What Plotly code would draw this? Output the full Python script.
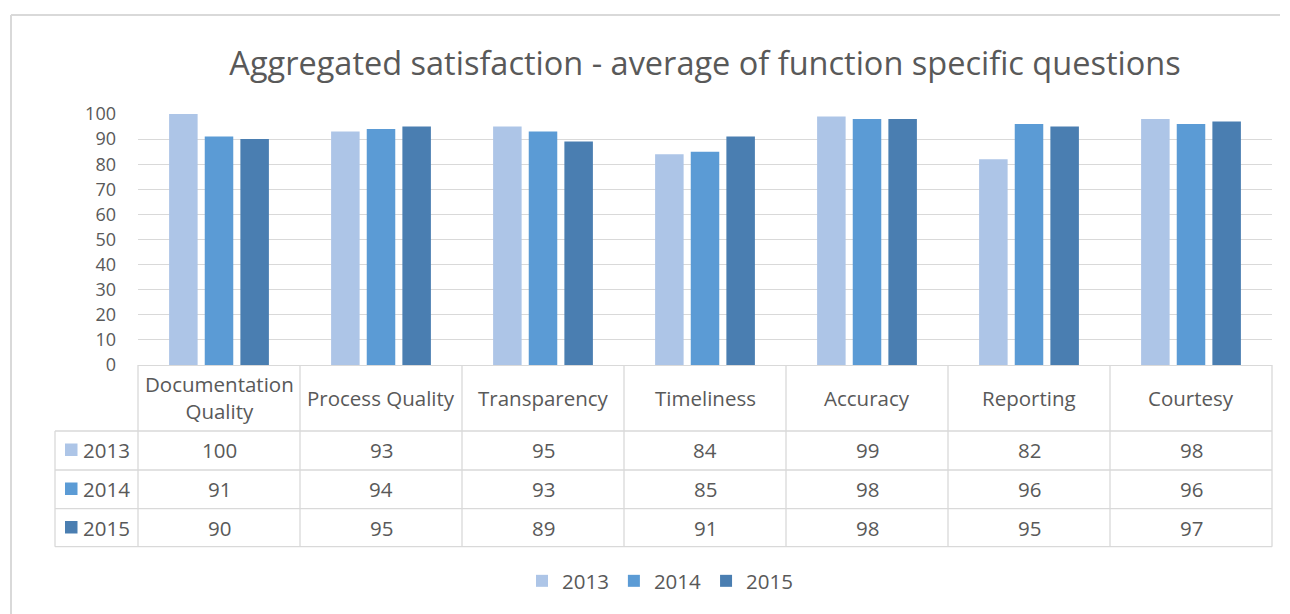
import plotly.graph_objects as go

categories = ["Documentation Quality", "Process Quality", "Transparency", "Timeliness",
              "Accuracy", "Reporting", "Courtesy"]
header_labels = ["Documentation<br>Quality", "Process Quality", "Transparency", "Timeliness",
                 "Accuracy", "Reporting", "Courtesy"]
years = ["2013", "2014", "2015"]
values_2013 = [100, 93, 95, 84, 99, 82, 98]
values_2014 = [91, 94, 93, 85, 98, 96, 96]
values_2015 = [90, 95, 89, 91, 98, 95, 97]
series = [values_2013, values_2014, values_2015]
colors = ["#ADC5E7", "#5B9BD5", "#4A7EB1"]
y_ticks = [0, 10, 20, 30, 40, 50, 60, 70, 80, 90, 100]

OFF = 8  # page body margin
W, H = 1290 - OFF, 614 - OFF
PL, PR, PT, PB = 138, 1272, 114, 365  # plot area in screen pixels
TXT = "#595959"
GRID = "#D9D9D9"
FONT = "Open Sans"
FS = 20.5


def px_x(p):
    return (p - PL) / (PR - PL)


def px_y(p):
    return (PB - p) / (PB - PT)


fig = go.Figure()
for name, vals, col in zip(years, series, colors):
    fig.add_trace(go.Bar(x=categories, y=vals, name=name,
                         marker=dict(color=col, line=dict(width=0))))

shapes = []
annotations = []

# table grid
row_lines = [431, 470, 508.7, 546.7]
for yl in row_lines:
    shapes.append(dict(type="line", xref="paper", yref="paper",
                       x0=px_x(55), x1=px_x(PR), y0=px_y(yl), y1=px_y(yl),
                       line=dict(color=GRID, width=1.3)))
shapes.append(dict(type="line", xref="paper", yref="paper",
                   x0=px_x(55), x1=px_x(55), y0=px_y(431), y1=px_y(546.7),
                   line=dict(color=GRID, width=1.3)))
ncat = len(categories)
for k in range(ncat + 1):
    xp = PL + (PR - PL) * k / ncat
    shapes.append(dict(type="line", xref="paper", yref="paper",
                       x0=px_x(xp), x1=px_x(xp), y0=px_y(PB), y1=px_y(546.7),
                       line=dict(color=GRID, width=1.3)))

# chart frame (top and left)
shapes.append(dict(type="line", xref="paper", yref="paper",
                   x0=px_x(11), x1=px_x(1280), y0=px_y(15), y1=px_y(15),
                   line=dict(color=GRID, width=2)))
shapes.append(dict(type="line", xref="paper", yref="paper",
                   x0=px_x(11), x1=px_x(11), y0=px_y(15), y1=px_y(614),
                   line=dict(color=GRID, width=2)))

# header labels
for cat, lab in zip(categories, header_labels):
    annotations.append(dict(x=cat, xref="x", y=px_y(398), yref="paper",
                            text=lab, showarrow=False, xanchor="center", yanchor="middle",
                            font=dict(family=FONT, size=FS, color=TXT)))

# values and row labels
row_centers = [450, 489, 527.5]
for yr, vals, col, rc in zip(years, series, colors, row_centers):
    for cat, v in zip(categories, vals):
        annotations.append(dict(x=cat, xref="x", y=px_y(rc), yref="paper",
                                text=f"{v:.0f}", showarrow=False,
                                xanchor="center", yanchor="middle",
                                font=dict(family=FONT, size=FS, color=TXT)))
    shapes.append(dict(type="rect", xref="paper", yref="paper",
                       x0=px_x(65), x1=px_x(77.5), y0=px_y(rc - 6.5), y1=px_y(rc + 6),
                       fillcolor=col, line=dict(width=0)))
    annotations.append(dict(x=px_x(81), xref="paper", y=px_y(rc), yref="paper",
                            text=yr, showarrow=False, xanchor="left", yanchor="middle",
                            font=dict(family=FONT, size=FS, color=TXT)))

fig.update_layout(
    width=W, height=H,
    margin=dict(l=PL - OFF, r=1290 - PR, t=PT - OFF, b=614 - PB, pad=0),
    paper_bgcolor="white", plot_bgcolor="white",
    barmode="group", bargap=0.34, bargroupgap=0.2,
    title=dict(text="Aggregated satisfaction - average of function specific questions",
               x=0.5, xref="paper", xanchor="center",
               y=1 - (64 - OFF) / H, yref="container", yanchor="middle",
               font=dict(family=FONT, size=32.5, color=TXT)),
    xaxis=dict(showticklabels=False, showgrid=False, showline=True,
               linecolor=GRID, linewidth=1.3, ticks=""),
    yaxis=dict(range=[0, 100], tickvals=y_ticks, showgrid=True, gridcolor=GRID,
               gridwidth=1.3, zeroline=False, showline=False, ticks="",
               ticklabelstandoff=21,
               tickfont=dict(family=FONT, size=18, color=TXT)),
    legend=dict(orientation="h", x=px_x(660), xanchor="center",
                y=px_y(581), yanchor="middle",
                font=dict(family=FONT, size=FS, color=TXT),
                traceorder="normal"),
    shapes=shapes, annotations=annotations,
    showlegend=True,
)

fig.write_html("out.html")
